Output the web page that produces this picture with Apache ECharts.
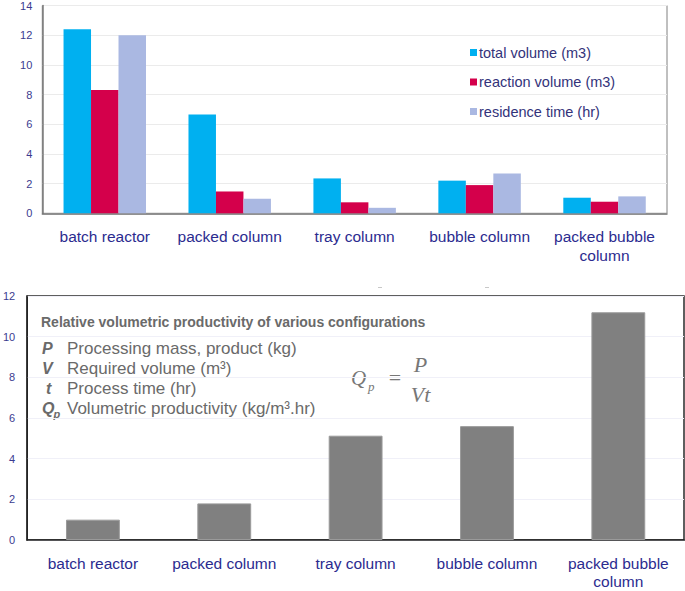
<!DOCTYPE html>
<html>
<head>
<meta charset="utf-8">
<script src="https://cdn.jsdelivr.net/npm/echarts@6/dist/echarts.min.js"></script>
<style>
html,body{margin:0;padding:0;background:#fff;}
#chart{width:685px;height:591px;}
</style>
</head>
<body>
<div id="chart"></div>
<script>
// ---- data ----
const categories = ['batch reactor', 'packed column', 'tray column', 'bubble column', 'packed bubble\ncolumn'];
const seriesNames = ['total volume (m3)', 'reaction volume (m3)', 'residence time (hr)'];
const totalVolume = [12.4, 6.65, 2.35, 2.2, 1.05];
const reactionVolume = [8.3, 1.47, 0.74, 1.9, 0.78];
const residenceTime = [12.0, 0.98, 0.37, 2.68, 1.14];
const productivity = [1.0, 1.8, 5.13, 5.6, 11.2];
const topAxis = { min: 0, max: 14, interval: 2 };
const bottomAxis = { min: 0, max: 12, interval: 2 };
const noteTitle = 'Relative volumetric productivity of various configurations';
const noteSymbols = ['P', 'V', 't', 'Q'];
const noteTexts = ['Processing mass, product (kg)', 'Required volume (m\u00B3)', 'Process time (hr)', 'Volumetric productivity (kg/m\u00B3.hr)'];

// ---- styles ----
const FONT = "'Liberation Sans', Arial, sans-serif";
const SERIF = "'Liberation Serif', 'Times New Roman', serif";
const navy = '#2b2b8f';
const colors = ['#00b0f0', '#d4004b', '#aab8e2'];
const noteGrey = '#6a6a6a';

const chart = echarts.init(document.getElementById('chart'), null, { renderer: 'svg' });

const xLabel = { color: navy, fontSize: 15.5, fontFamily: FONT, margin: 14, lineHeight: 18.5, interval: 0 };
const yLabelTop = { color: '#3b3b8f', fontSize: 11, fontFamily: FONT, margin: 10 };
const yLabelBot = { color: '#3b3b8f', fontSize: 11, fontFamily: FONT, margin: 12 };

const noteRowsY = [348, 368, 388, 408];
const graphics = [
  { type: 'text', x: 41, y: 321.5, style: { text: noteTitle, fill: noteGrey, font: "bold 14px " + FONT, align: 'left', verticalAlign: 'middle' } }
];
noteSymbols.forEach((s, i) => {
  graphics.push({ type: 'text', x: s === 't' ? 46 : 42, y: noteRowsY[i], style: { text: s, fill: noteGrey, font: "italic bold 16px " + FONT, align: 'left', verticalAlign: 'middle' } });
  graphics.push({ type: 'text', x: 67, y: noteRowsY[i], style: { text: noteTexts[i], fill: noteGrey, font: "17px " + FONT, align: 'left', verticalAlign: 'middle' } });
});
graphics.push({ type: 'text', x: 53.5, y: 414, style: { text: 'p', fill: noteGrey, font: "italic bold 11px " + FONT, align: 'left', verticalAlign: 'middle' } });
// formula Qp = P / Vt
const fGrey = '#777';
graphics.push(
  { type: 'text', x: 351, y: 378, style: { text: 'Q', fill: fGrey, font: "italic 21px " + SERIF, align: 'left', verticalAlign: 'middle' } },
  { type: 'text', x: 368, y: 386, style: { text: 'p', fill: fGrey, font: "italic 13px " + SERIF, align: 'left', verticalAlign: 'middle' } },
  { type: 'text', x: 395, y: 377, style: { text: '=', fill: fGrey, font: "22px " + SERIF, align: 'center', verticalAlign: 'middle' } },
  { type: 'line', shape: { x1: 407, y1: 377.5, x2: 433.5, y2: 377.5 }, style: { stroke: fGrey, lineWidth: 1 } },
  { type: 'text', x: 420.5, y: 364, style: { text: 'P', fill: fGrey, font: "italic 22px " + SERIF, align: 'center', verticalAlign: 'middle' } },
  { type: 'text', x: 420.5, y: 394, style: { text: 'Vt', fill: fGrey, font: "italic 22px " + SERIF, align: 'center', verticalAlign: 'middle' } },
  { type: 'line', shape: { x1: 378, y1: 287.5, x2: 382, y2: 287.5 }, style: { stroke: '#c8c8c8', lineWidth: 1 } },
  { type: 'line', shape: { x1: 485, y1: 287.5, x2: 489, y2: 287.5 }, style: { stroke: '#c8c8c8', lineWidth: 1 } }
);

const option = {
  backgroundColor: '#fff',
  animation: false,
  textStyle: { fontFamily: FONT },
  legend: {
    data: seriesNames,
    orient: 'vertical',
    left: 465,
    top: 40,
    icon: 'rect',
    itemWidth: 7,
    itemHeight: 7,
    itemGap: 14.5,
    textStyle: { color: '#33337a', fontSize: 14.5, fontFamily: FONT, padding: [0, 0, 0, -3] },
    selectedMode: false
  },
  grid: [
    { left: 42.3, right: 18, top: 4.5, bottom: 591 - 213.3, show: true, borderColor: '#808080', borderWidth: 1, backgroundColor: 'transparent' },
    { left: 22.3, right: 1, top: 296, bottom: 591 - 544, show: true, borderColor: '#2a2a2a', borderWidth: 1.5, backgroundColor: 'transparent' }
  ],
  xAxis: [
    { type: 'category', gridIndex: 0, data: categories, axisTick: { show: false }, axisLine: { lineStyle: { color: '#6e6e6e', width: 1.5 } }, axisLabel: xLabel },
    { type: 'category', gridIndex: 1, data: categories, axisTick: { show: false }, axisLine: { lineStyle: { color: '#222', width: 1.5 } }, axisLabel: xLabel }
  ],
  yAxis: [
    { type: 'value', gridIndex: 0, min: topAxis.min, max: topAxis.max, interval: topAxis.interval,
      axisLine: { show: true, lineStyle: { color: '#7a7a7a', width: 1.5 } }, axisTick: { show: false },
      splitLine: { lineStyle: { color: '#ebebeb', width: 1 } }, axisLabel: yLabelTop },
    { type: 'value', gridIndex: 1, min: bottomAxis.min, max: bottomAxis.max, interval: bottomAxis.interval,
      axisLine: { show: true, lineStyle: { color: '#222', width: 1.5 } }, axisTick: { show: false },
      splitLine: { lineStyle: { color: '#f0f0f8', width: 1 } }, axisLabel: yLabelBot }
  ],
  series: [
    { name: seriesNames[0], type: 'bar', xAxisIndex: 0, yAxisIndex: 0, data: totalVolume, barGap: '0%', barCategoryGap: '34%', itemStyle: { color: colors[0] } },
    { name: seriesNames[1], type: 'bar', xAxisIndex: 0, yAxisIndex: 0, data: reactionVolume, barGap: '0%', barCategoryGap: '34%', itemStyle: { color: colors[1] } },
    { name: seriesNames[2], type: 'bar', xAxisIndex: 0, yAxisIndex: 0, data: residenceTime, barGap: '0%', barCategoryGap: '34%', itemStyle: { color: colors[2] } },
    { name: 'productivity', type: 'bar', xAxisIndex: 1, yAxisIndex: 1, data: productivity, barCategoryGap: '59%', itemStyle: { color: '#808080', borderColor: '#9a9a9a', borderWidth: 1 } }
  ],
  graphic: graphics
};
chart.setOption(option);
</script>
</body>
</html>
